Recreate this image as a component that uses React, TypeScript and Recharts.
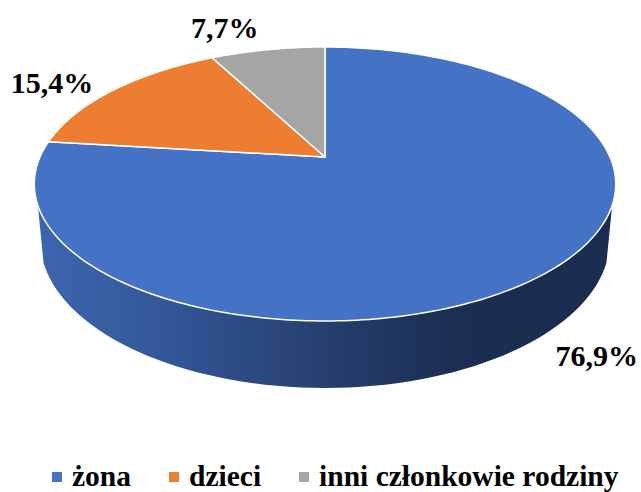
import { PieChart, Pie, Legend } from "recharts";

const categories = ["żona", "dzieci", "inni członkowie rodziny"];
const values = [76.9, 15.4, 7.7];
const colors = ["#4472c4", "#ed7d31", "#a5a5a5"];

const data = categories.map((name, i) => ({
  name,
  value: values[i],
  fill: colors[i],
}));

// nudges from the rim of each slice out to where its label sits
const labelNudge = [
  [50, 83],
  [-62, -7],
  [-43, -22],
];

const FONT = "'Liberation Serif', 'Times New Roman', serif";

// tilt of the disc: far side is squeezed, near side stretched
const TILT = 0.197;
const SQUASH = 0.462;
const DEPTH = 67;

const rad = (deg: number) => (deg * Math.PI) / 180;

// theta is measured clockwise from 12 o'clock
const project = (cx: number, cy: number, r: number, theta: number) => {
  const w = 1 + TILT * Math.cos(rad(theta));
  return {
    x: cx + (r * Math.sin(rad(theta))) / w,
    y: cy - (r * SQUASH * Math.cos(rad(theta))) / w,
    w,
  };
};

const Slice = (props: any) => {
  const { cx, cy, outerRadius, startAngle, endAngle, fill, index } = props;
  const from = 90 - startAngle;
  const to = 90 - endAngle;
  const steps = Math.max(4, Math.ceil(to - from));
  let d = `M${cx},${cy}`;
  for (let i = 0; i <= steps; i++) {
    const p = project(cx, cy, outerRadius, from + ((to - from) * i) / steps);
    d += `L${p.x.toFixed(2)},${p.y.toFixed(2)}`;
  }
  d += "Z";

  // only the big slice reaches the front of the disc
  let wall = "";
  if (index === 0) {
    const top: string[] = [];
    const bottom: string[] = [];
    for (let t = 110; t <= 250; t += 2) {
      const p = project(cx, cy, outerRadius, t);
      const drop = (DEPTH * (1 - TILT)) / p.w;
      top.push(`${p.x.toFixed(2)},${p.y.toFixed(2)}`);
      bottom.push(`${(cx + (p.x - cx) * 0.98).toFixed(2)},${(p.y + drop).toFixed(2)}`);
    }
    wall = `M${top.join("L")}L${bottom.reverse().join("L")}Z`;
  }

  return (
    <g>
      {wall && (
        <>
          <defs>
            <linearGradient id="wallFill" x1="0" y1="0" x2="1" y2="0">
              <stop offset="0" stopColor="#3c66b0" />
              <stop offset="0.2" stopColor="#34589a" />
              <stop offset="0.5" stopColor="#263f6f" />
              <stop offset="0.72" stopColor="#1b2e52" />
              <stop offset="1" stopColor="#1a2c50" />
            </linearGradient>
          </defs>
          <path d={wall} fill="url(#wallFill)" />
        </>
      )}
      <path d={d} fill={fill} stroke="#ffffff" strokeWidth={1.5} strokeLinejoin="round" />
    </g>
  );
};

const renderLabel = (props: any) => {
  const { cx, cy, outerRadius, midAngle, index } = props;
  const p = project(cx, cy, outerRadius, 90 - midAngle);
  return (
    <text
      x={p.x + labelNudge[index][0]}
      y={p.y + labelNudge[index][1]}
      textAnchor="middle"
      dominantBaseline="central"
      fontFamily={FONT}
      fontWeight="bold"
      fontSize={30}
      fill="#000000"
    >
      {values[index].toFixed(1).replace(".", ",")}%
    </text>
  );
};

const renderLegend = () => (
  <div style={{ display: "flex", fontFamily: FONT, fontWeight: "bold", fontSize: 29.5, color: "#000", whiteSpace: "nowrap" }}>
    {categories.map((name, i) => (
      <div key={name} style={{ display: "flex", alignItems: "center", marginRight: 38 }}>
        <span style={{ width: 10, height: 10, background: colors[i], marginRight: 10 }} />
        <span>{name}</span>
      </div>
    ))}
  </div>
);

const App = () => (
  <div style={{ position: "absolute", left: 0, top: 0, width: 641, height: 492, background: "#fff" }}>
    <PieChart width={641} height={492} margin={{ top: 0, right: 0, bottom: 0, left: 0 }}>
      <Pie
        data={data}
        dataKey="value"
        nameKey="name"
        cx={325}
        cy={157}
        outerRadius={285}
        startAngle={90}
        endAngle={-270}
        shape={Slice}
        label={renderLabel}
        labelLine={false}
        isAnimationActive={false}
      />
      <Legend content={renderLegend} wrapperStyle={{ left: 52, top: 460, width: 589, bottom: "auto" }} />
    </PieChart>
  </div>
);

export default App;
